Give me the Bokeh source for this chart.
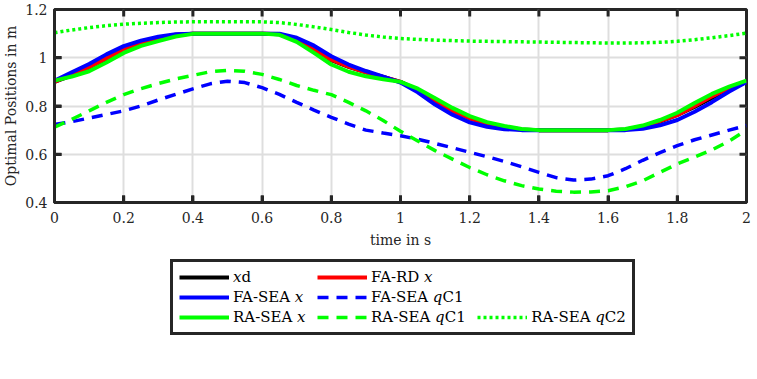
from bokeh.plotting import figure
from bokeh.layouts import column
from bokeh.models import Legend, LegendItem, Range1d, FixedTicker
from bokeh.embed import file_html
from bokeh.resources import INLINE

# ---------------- data ----------------
t = [0.00, 0.05, 0.10, 0.15, 0.20, 0.25, 0.30, 0.35, 0.40, 0.45,
     0.50, 0.55, 0.60, 0.65, 0.70, 0.75, 0.80, 0.85, 0.90, 0.95,
     1.00, 1.05, 1.10, 1.15, 1.20, 1.25, 1.30, 1.35, 1.40, 1.45,
     1.50, 1.55, 1.60, 1.65, 1.70, 1.75, 1.80, 1.85, 1.90, 1.95, 2.00]

x_d = [0.900, 0.927, 0.956, 0.992, 1.028, 1.057, 1.079, 1.094, 1.100, 1.100,
       1.100, 1.100, 1.100, 1.097, 1.072, 1.032, 0.990, 0.962, 0.940, 0.921,
       0.900, 0.866, 0.826, 0.786, 0.753, 0.729, 0.713, 0.703, 0.700, 0.700,
       0.700, 0.700, 0.700, 0.703, 0.715, 0.735, 0.763, 0.796, 0.833, 0.868, 0.900]

fa_rd_x = [0.900, 0.932, 0.961, 0.998, 1.034, 1.062, 1.082, 1.095, 1.100, 1.100,
           1.100, 1.100, 1.100, 1.098, 1.076, 1.036, 0.992, 0.963, 0.940, 0.920,
           0.900, 0.864, 0.820, 0.780, 0.748, 0.726, 0.711, 0.702, 0.700, 0.700,
           0.700, 0.700, 0.700, 0.702, 0.714, 0.737, 0.762, 0.800, 0.840, 0.874, 0.900]

fa_sea_x = [0.905, 0.940, 0.974, 1.014, 1.048, 1.071, 1.087, 1.097, 1.100, 1.100,
            1.100, 1.100, 1.100, 1.100, 1.083, 1.050, 1.006, 0.972, 0.945, 0.922,
            0.897, 0.857, 0.806, 0.764, 0.732, 0.714, 0.704, 0.700, 0.700, 0.700,
            0.700, 0.700, 0.700, 0.700, 0.706, 0.720, 0.742, 0.776, 0.816, 0.860, 0.900]

fa_sea_qc1 = [0.723, 0.735, 0.750, 0.765, 0.780, 0.800, 0.825, 0.848, 0.871, 0.892,
              0.903, 0.897, 0.876, 0.848, 0.815, 0.783, 0.753, 0.725, 0.700, 0.688,
              0.677, 0.662, 0.645, 0.627, 0.608, 0.590, 0.570, 0.548, 0.525, 0.503,
              0.493, 0.497, 0.511, 0.540, 0.575, 0.607, 0.636, 0.660, 0.680, 0.700, 0.719]

ra_sea_x = [0.905, 0.922, 0.944, 0.980, 1.020, 1.049, 1.069, 1.088, 1.099, 1.100,
            1.100, 1.100, 1.100, 1.095, 1.066, 1.020, 0.972, 0.942, 0.923, 0.911,
            0.900, 0.872, 0.832, 0.792, 0.758, 0.733, 0.717, 0.705, 0.700, 0.700,
            0.700, 0.700, 0.700, 0.705, 0.719, 0.742, 0.772, 0.812, 0.850, 0.880, 0.905]

ra_sea_qc1 = [0.712, 0.745, 0.780, 0.815, 0.847, 0.872, 0.893, 0.912, 0.927, 0.942,
              0.948, 0.944, 0.931, 0.910, 0.885, 0.865, 0.847, 0.815, 0.780, 0.740,
              0.695, 0.655, 0.615, 0.580, 0.545, 0.515, 0.490, 0.470, 0.456, 0.447,
              0.443, 0.444, 0.449, 0.465, 0.490, 0.525, 0.560, 0.588, 0.618, 0.655, 0.700]

ra_sea_qc2 = [1.104, 1.115, 1.125, 1.133, 1.139, 1.143, 1.146, 1.148, 1.149, 1.149,
              1.149, 1.149, 1.149, 1.146, 1.138, 1.128, 1.117, 1.105, 1.094, 1.086,
              1.080, 1.076, 1.073, 1.071, 1.069, 1.068, 1.067, 1.066, 1.065, 1.064,
              1.063, 1.062, 1.061, 1.061, 1.062, 1.064, 1.068, 1.075, 1.083, 1.092, 1.102]

x_lim = [0, 2]
y_lim = [0.4, 1.2]
x_ticks = [0, 0.2, 0.4, 0.6, 0.8, 1, 1.2, 1.4, 1.6, 1.8, 2]
x_tick_labels = ["0", "0.2", "0.4", "0.6", "0.8", "1", "1.2", "1.4", "1.6", "1.8", "2"]
y_ticks = [0.4, 0.6, 0.8, 1, 1.2]
y_tick_labels = ["0.4", "0.6", "0.8", "1", "1.2"]

labels = ["𝑥d", "FA-RD 𝑥", "FA-SEA 𝑥", "FA-SEA 𝑞C1", "RA-SEA 𝑥", "RA-SEA 𝑞C1", "RA-SEA 𝑞C2"]

# ---------------- styles ----------------
FONT = "DejaVu Serif"
DARK = "#262626"
series = [
    (x_d,        dict(line_color="black",   line_width=4)),
    (fa_rd_x,    dict(line_color="#ff0000", line_width=4)),
    (fa_sea_x,   dict(line_color="#0000ff", line_width=4)),
    (fa_sea_qc1, dict(line_color="#0000ff", line_width=3.5, line_dash="11 8")),
    (ra_sea_x,   dict(line_color="#00ff00", line_width=4)),
    (ra_sea_qc1, dict(line_color="#00ff00", line_width=3.5, line_dash="11 8")),
    (ra_sea_qc2, dict(line_color="#00ff00", line_width=3.5, line_dash="3 3")),
]

# ---------------- main plot ----------------
p = figure(width=757, height=254, output_backend="svg", toolbar_location=None,
           x_range=Range1d(*x_lim), y_range=Range1d(*y_lim),
           min_border_left=52, min_border_right=11, min_border_top=9, min_border_bottom=52)
p.outline_line_color = DARK
p.outline_line_width = 3
p.outline_line_alpha = 1
p.background_fill_color = None
p.border_fill_color = "white"

xt = FixedTicker(ticks=x_ticks)
yt = FixedTicker(ticks=y_ticks)

for ax in (p.xaxis[0], p.yaxis[0]):
    ax.axis_line_width = 3
    ax.axis_line_color = DARK
    ax.major_tick_in = 7
    ax.major_tick_out = 0
    ax.major_tick_line_width = 3
    ax.major_tick_line_color = DARK
    ax.minor_tick_line_color = None
    ax.major_label_text_font = FONT
    ax.major_label_text_font_size = "14px"
    ax.major_label_text_color = DARK
    ax.axis_label_text_font = FONT
    ax.axis_label_text_font_size = "14px"
    ax.axis_label_text_font_style = "normal"
    ax.axis_label_text_color = DARK

p.xaxis[0].ticker = xt
p.yaxis[0].ticker = yt
p.xaxis[0].major_label_overrides = dict(zip(x_ticks, x_tick_labels))
p.yaxis[0].major_label_overrides = dict(zip(y_ticks, y_tick_labels))
p.xaxis[0].axis_label = "time in s"
p.yaxis[0].axis_label = "Optimal Positions in m"
p.xaxis[0].major_label_standoff = 9
p.xaxis[0].axis_label_standoff = 6
p.yaxis[0].major_label_standoff = 7
p.yaxis[0].axis_label_standoff = 3

p.xgrid.ticker = xt
p.ygrid.ticker = yt
for g in (p.xgrid[0], p.ygrid[0]):
    g.grid_line_color = "#dedede"
    g.grid_line_width = 2
    g.level = "image"

for ys, kw in series:
    p.line(t, ys, **kw)

# inward tick marks on all four edges of the box (outer half is clipped by the frame)
nx, ny = len(x_ticks), len(y_ticks)
for yv in y_lim:
    p.rect(x=x_ticks, y=[yv] * nx, width=3, height=14, width_units="screen",
           height_units="screen", fill_color=DARK, line_color=None)
for xv in x_lim:
    p.rect(x=[xv] * ny, y=y_ticks, width=14, height=3, width_units="screen",
           height_units="screen", fill_color=DARK, line_color=None)

# ---------------- legend (own panel below the plot) ----------------
# the legend panel holds copies of the series placed outside its visible range,
# so that each legend entry can draw its line sample
lg = figure(width=757, height=125, output_backend="svg", toolbar_location=None,
            x_axis_type=None, y_axis_type=None, x_range=Range1d(10, 11), y_range=Range1d(10, 11),
            min_border=0)
lg.outline_line_color = None
lg.grid.visible = False
lg.background_fill_color = None
lg.border_fill_color = "white"

rs = [lg.line(t, ys, **kw) for ys, kw in series]
blank = lg.line(t, x_d, line_alpha=0)

items = [
    LegendItem(label=labels[0] + "  ", renderers=[rs[0]]),
    LegendItem(label=labels[1] + "  ", renderers=[rs[1]]),
    LegendItem(label=" ", renderers=[blank]),
    LegendItem(label=labels[2] + "  ", renderers=[rs[2]]),
    LegendItem(label=labels[3] + "  ", renderers=[rs[3]]),
    LegendItem(label=" ", renderers=[blank]),
    LegendItem(label=labels[4] + "  ", renderers=[rs[4]]),
    LegendItem(label=labels[5] + "  ", renderers=[rs[5]]),
    LegendItem(label=labels[6], renderers=[rs[6]]),
]
legend = Legend(items=items, orientation="horizontal", ncols=3, location=(116, 44),
                glyph_width=50, glyph_height=18, label_standoff=4, spacing=2,
                padding=6, margin=0,
                label_text_font=FONT, label_text_font_size="15px", label_text_color="black",
                border_line_color=DARK, border_line_width=3, border_line_alpha=1,
                background_fill_alpha=1, label_height=18)
lg.add_layout(legend)

page = column(p, lg, spacing=0)
page.styles = {"position": "absolute", "top": "0px", "left": "0px"}

open("out.html", "w").write(file_html(page, INLINE))
